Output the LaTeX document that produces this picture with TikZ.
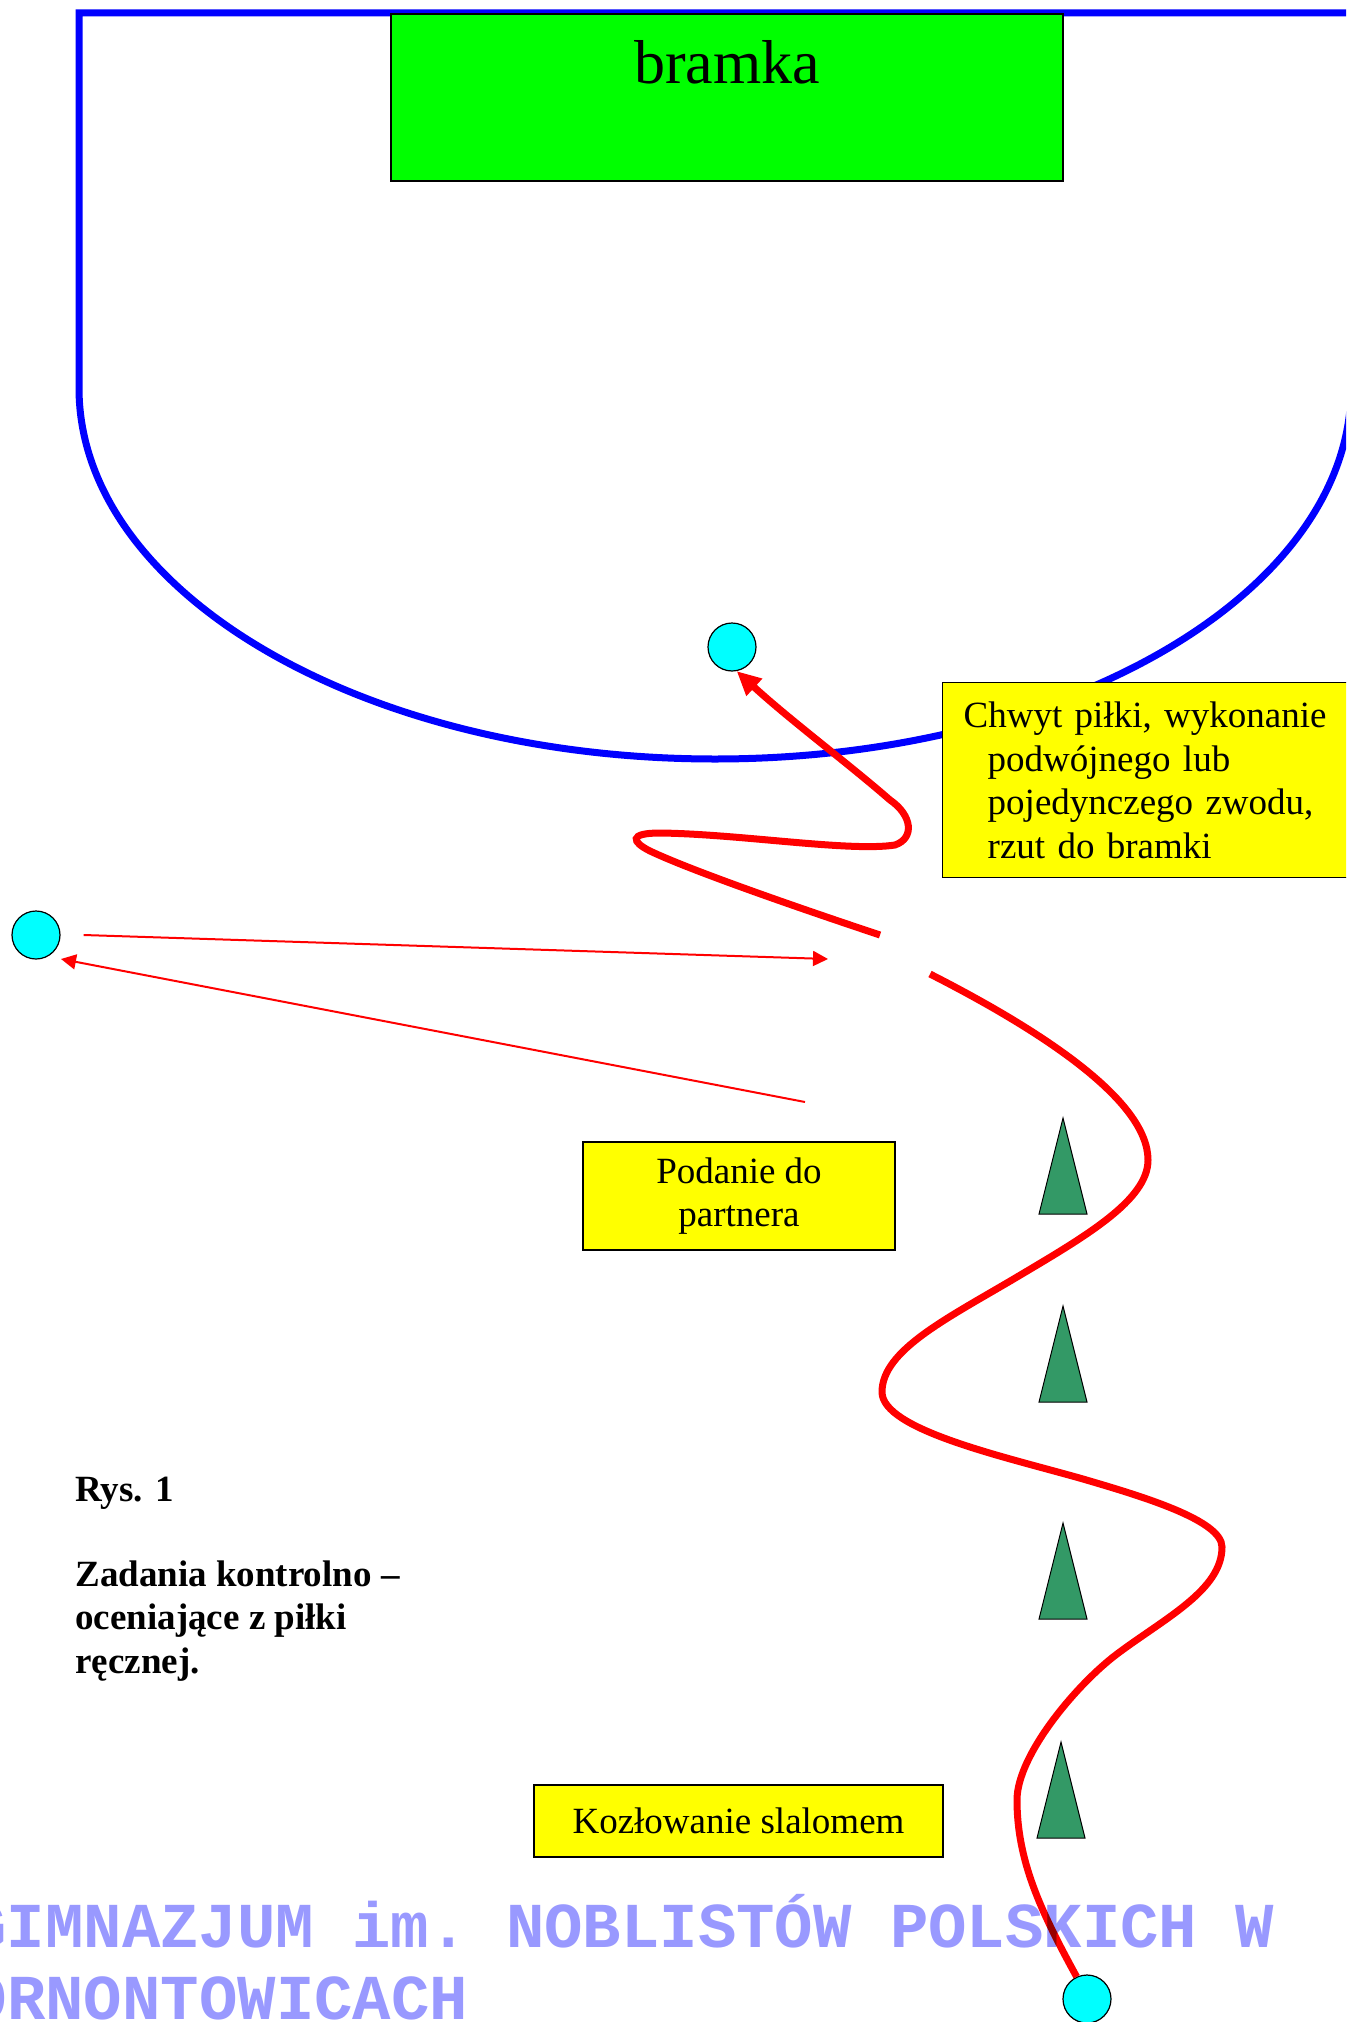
\documentclass[tikz,border=0pt]{standalone}
\usepackage{fontspec}
\setmainfont{Liberation Serif}
\setmonofont{Liberation Mono}
\usetikzlibrary{arrows.meta,positioning}
\definecolor{goalgreen}{RGB}{0,255,0}
\definecolor{noteyellow}{RGB}{255,255,0}
\definecolor{playercyan}{RGB}{0,255,255}
\definecolor{pylongreen}{RGB}{51,153,102}
\definecolor{schoolblue}{RGB}{153,153,255}
\newcommand{\notefont}{\fontsize{18.5pt}{21.8pt}\selectfont}
\tikzstyle{field} = [line width=3.5pt, blue]
\tikzstyle{goal} = [rectangle, draw=black, line width=0.6pt, fill=goalgreen, minimum width=336pt, minimum height=83.5pt]
\tikzstyle{note} = [rectangle, draw=black, line width=0.7pt, fill=noteyellow, font=\notefont, inner sep=0pt]
\tikzstyle{player} = [circle, draw=black, line width=0.6pt, fill=playercyan, minimum size=24pt, inner sep=0pt]
\tikzstyle{pylon} = [draw=black, line width=0.5pt, fill=pylongreen]
\tikzstyle{dribble} = [red, line width=3.5pt]
\tikzstyle{pass} = [red, line width=1pt, -{Triangle[length=7.5pt,width=7.5pt]}]
\tikzstyle{school} = [anchor=base west, inner sep=0pt, text=schoolblue, font=\fontsize{32pt}{36pt}\selectfont\ttfamily\bfseries]

\begin{document}
\begin{tikzpicture}[x=0.5pt, y=-0.5pt]
\clip (0,0) rectangle (1346,2022);

\draw[field] (1400,13) -- (79,13) -- (79,388) arc[start angle=180, end angle=0, x radius=636, y radius=371] -- (1351,13);

\node (goal) [goal] at (727,97.5) {};
\node (goaltxt) [anchor=base, inner sep=0pt, font=\fontsize{31pt}{36pt}\selectfont] at (727,84) {bramka};

\node (pTop) [player] at (732,647) {};
\node (pLeft) [player] at (36,935) {};
\node (pBottom) [player] at (1087,1999) {};

\foreach \x/\y in {1063/1118,1063/1306,1063/1523,1061/1742}
  \draw[pylon] (\x,\y) -- ++(24,96) -- ++(-48,0) -- cycle;

\node (catch) [note, anchor=north west, minimum width=209pt, minimum height=97.5pt, text width=188pt, align=left, inner xsep=10.5pt] at (942,682) {Chwyt piłki, wykonanie\\\hspace*{12pt}podwójnego lub\\\hspace*{12pt}pojedynczego zwodu,\\\hspace*{12pt}rzut do bramki};
\node (passnote) [note, minimum width=156pt, minimum height=54pt, align=center] at (739,1196) {Podanie do\\partnera};
\node (slalom) [note, minimum width=204.5pt, minimum height=36pt] at (738.5,1821) {Kozłowanie slalomem};

\node (rys) [anchor=base west, inner sep=0pt, font=\notefont\bfseries] at (75,1501) {Rys. 1};
\node (task) [below right=29.5pt and 0pt of rys.base west, inner sep=0pt, align=left, font=\notefont\bfseries] {Zadania kontrolno –\\oceniające z piłki\\ręcznej.};

\coordinate (gapLow) at (930,974);
\coordinate (gapHigh) at (880,935);
\coordinate (passTip) at (828,959);
\coordinate (passStart) at (805,1102);
\coordinate (passBack) at (61,959);

\draw[dribble] (pBottom.115) .. controls (1040,1910) and (1017,1860) .. (1017,1800)
  .. controls (1017,1755) and (1077,1684) .. (1117,1654)
  .. controls (1165,1618) and (1222,1590) .. (1222,1547)
  .. controls (1222,1520) and (1141,1496) .. (1083,1479)
  .. controls (1006,1457) and (882,1430) .. (882,1392)
  .. controls (882,1350) and (948,1318) .. (1017,1277)
  .. controls (1086,1236) and (1148,1200) .. (1148,1160)
  .. controls (1148,1100) and (1040,1030) .. (gapLow);
\draw[dribble, -{Triangle[length=12pt,width=11pt]}] (gapHigh) .. controls (790,905) and (690,870) .. (650,851)
  .. controls (632,842) and (628,833) .. (660,833)
  .. controls (740,834) and (850,852) .. (895,845)
  .. controls (915,838) and (912,815) .. (890,800)
  .. controls (850,765) and (790,720) .. (pTop.-79);

\draw[pass] ([xshift=11.5pt]pLeft.east) -- (passTip);
\draw[pass] (passStart) -- (passBack);

\begin{scope}[blend mode=multiply]
\node (school1) [school] at (-32,1947) {GIMNAZJUM im. NOBLISTÓW POLSKICH W};
\node (school2) [school] at (-70,2019) {KORNONTOWICACH};
\end{scope}
\end{tikzpicture}
\end{document}
